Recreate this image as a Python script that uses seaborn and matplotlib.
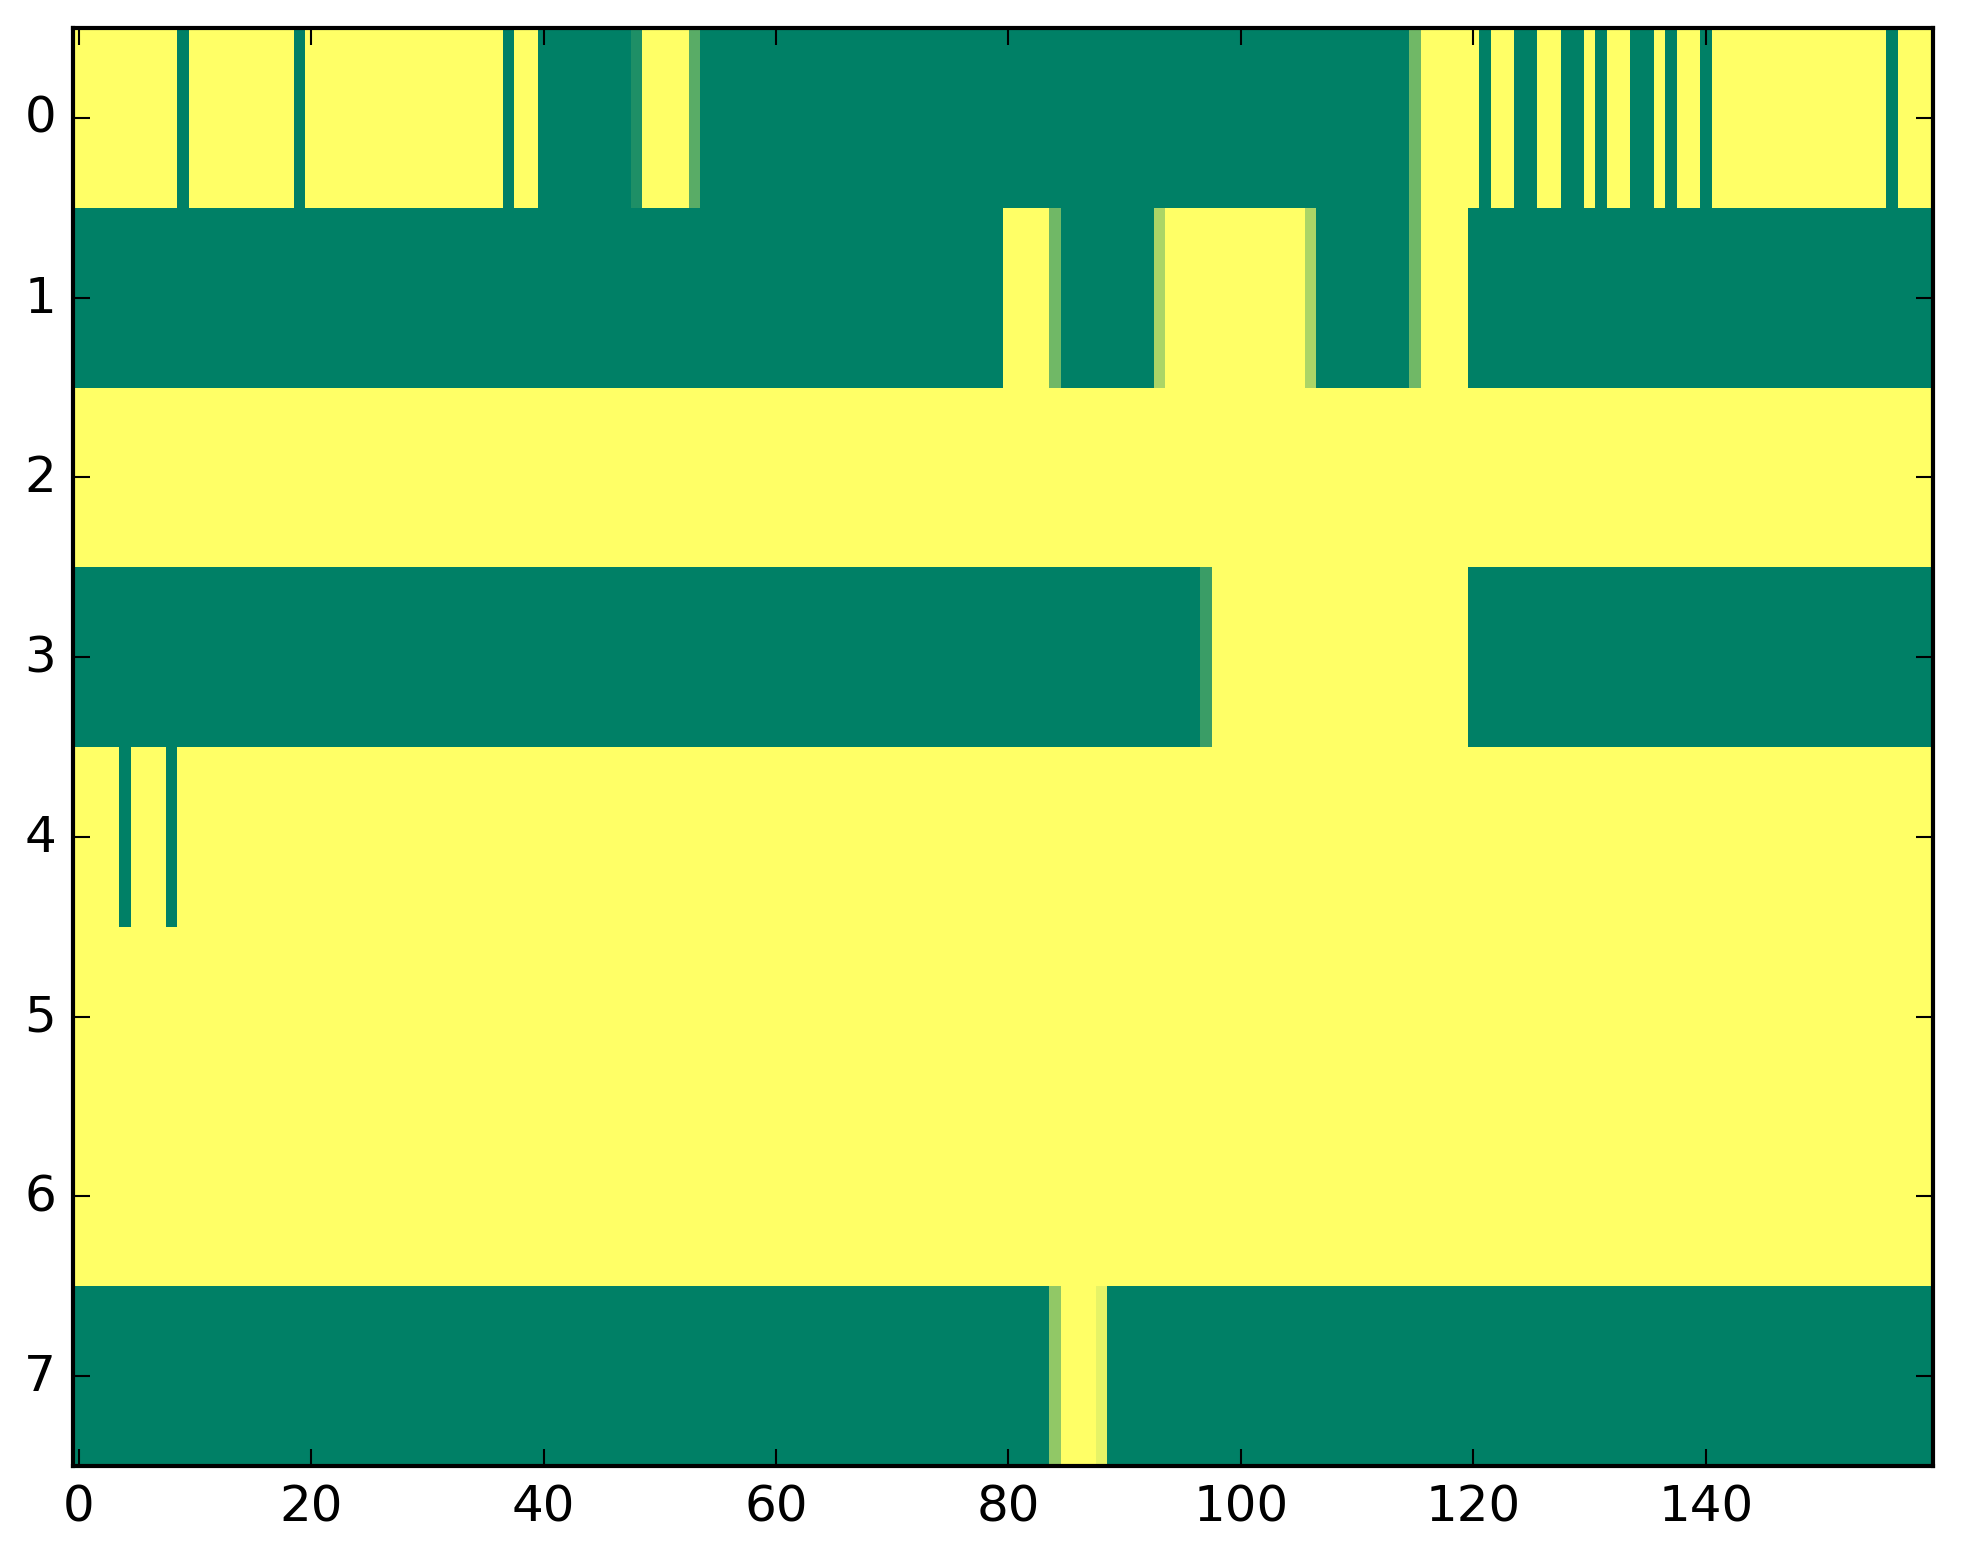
import numpy as np
import pandas as pd
import matplotlib
matplotlib.use("Agg")
import matplotlib.pyplot as plt
import seaborn as sns

# each row as run-length pairs: (value, number of columns)
row_0 = [(1, 9), (0, 1), (1, 9), (0, 1), (1, 17), (0, 1), (1, 2), (0, 8), (0.12, 1),
         (1, 4), (0.35, 1), (0, 61), (0.44, 1), (1, 5), (0, 1), (1, 2), (0, 2), (1, 2),
         (0, 2), (1, 1), (0, 1), (1, 2), (0, 2), (1, 1), (0, 1), (1, 2), (0, 1), (1, 15),
         (0, 1), (1, 3)]
row_1 = [(0, 80), (1, 4), (0.44, 1), (0, 8), (0.67, 1), (1, 12), (0.67, 1), (0, 8),
         (0.44, 1), (1, 4), (0, 40)]
row_2 = [(1, 160)]
row_3 = [(0, 97), (0.23, 1), (1, 22), (0, 40)]
row_4 = [(1, 4), (0, 1), (1, 3), (0, 1), (1, 151)]
row_5 = [(1, 160)]
row_6 = [(1, 160)]
row_7 = [(0, 84), (0.57, 1), (1, 3), (0.9, 1), (0, 71)]

rows = [row_0, row_1, row_2, row_3, row_4, row_5, row_6, row_7]
x_ticks = [0, 20, 40, 60, 80, 100, 120, 140]
y_ticks = [0, 1, 2, 3, 4, 5, 6, 7]


def expand(runs):
    vals = [v for v, n in runs]
    counts = [n for v, n in runs]
    return np.repeat(vals, counts)


data = pd.DataFrame(np.vstack([expand(r) for r in rows]))

plt.rcParams.update({
    "font.family": "DejaVu Sans",
    "font.size": 12,
    "axes.linewidth": 1.0,
    "xtick.direction": "in",
    "ytick.direction": "in",
    "xtick.top": True,
    "ytick.right": True,
    "xtick.major.size": 4,
    "ytick.major.size": 4,
    "xtick.major.width": 0.5,
    "ytick.major.width": 0.5,
    "xtick.major.pad": 4,
    "ytick.major.pad": 4,
})

fig = plt.figure(figsize=(1963 / 300, 1564 / 300), dpi=300)
ax = fig.add_axes([72.8 / 1963, 97 / 1564, 1859.7 / 1963, 1438 / 1564])
sns.heatmap(data, cmap="summer", vmin=0, vmax=1, cbar=False, ax=ax)

for s in ax.spines.values():
    s.set_visible(True)
    s.set_linewidth(1.0)
    s.set_color("black")

ax.set_xticks([t + 0.5 for t in x_ticks])
ax.set_xticklabels([str(t) for t in x_ticks], rotation=0)
ax.set_yticks([t + 0.5 for t in y_ticks])
ax.set_yticklabels([str(t) for t in y_ticks], rotation=0, va="center")
ax.tick_params(direction="in", top=True, right=True, bottom=True, left=True,
               length=4, width=0.5, pad=4, labelsize=12, colors="black")
ax.set_xlabel("")
ax.set_ylabel("")

fig.savefig("out.png", dpi=300)
